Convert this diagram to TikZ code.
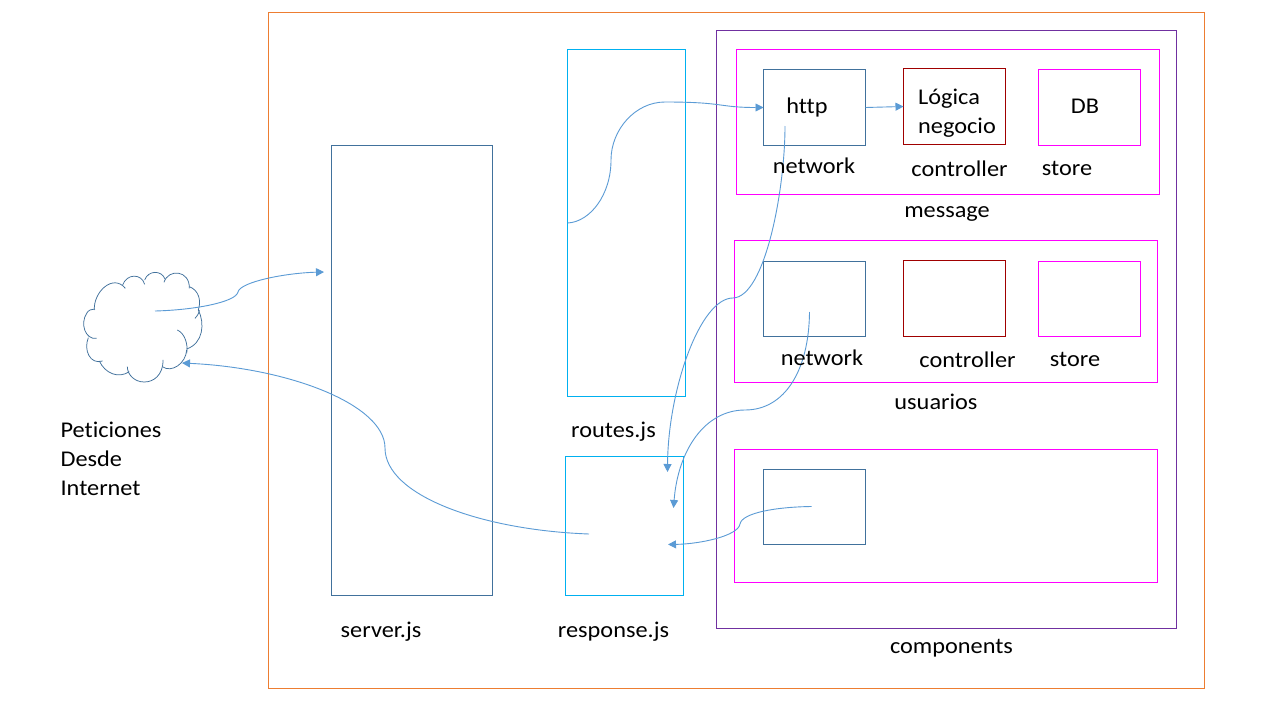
\documentclass[tikz,border=0pt]{standalone}
\usepackage{fontspec}
\setmainfont[Ligatures=NoCommon, FakeStretch=1.08]{Carlito}
\usetikzlibrary{positioning, arrows.meta}
\definecolor{cOrange}{HTML}{ED7D31}
\definecolor{cSteel}{HTML}{41719C}
\definecolor{cCyan}{HTML}{00B0F0}
\definecolor{cPurple}{HTML}{7030A0}
\definecolor{cMagenta}{HTML}{FF00FF}
\definecolor{cRed}{HTML}{A00000}
\definecolor{cLink}{HTML}{5B9BD5}
\tikzset{
	box/.style={draw, inner sep=0pt, outer sep=0pt, line width=1pt},
	smallbox/.style={box, minimum width=102pt, minimum height=76pt},
	lbl/.style={font=\fontsize{22.5}{29}\selectfont, inner sep=0pt, align=left},
	link/.style={draw=cLink, line width=.9pt, -{Triangle[length=8pt, width=8pt]}}
}
\begin{document}
\begin{tikzpicture}[x=1pt, y=-1pt]
	\path[use as bounding box, fill=white] (0,0) rectangle (1280,720);

	% main frames
	\node[box, draw=cOrange, minimum width=936pt, minimum height=676pt] (app) at (736.5,350.5) {};
	\node[box, draw=cSteel, minimum width=161pt, minimum height=450pt] (server) at (412,370.5) {};
	\node[box, draw=cCyan, minimum width=118pt, minimum height=347pt] (routes) at (626.5,223) {};
	\node[box, draw=cCyan, minimum width=118pt, minimum height=139pt] (response) at (624.5,526) {};
	\node[box, draw=cPurple, minimum width=460pt, minimum height=598pt] (comps) at (946.5,329.5) {};

	% message
	\node[box, draw=cMagenta, minimum width=423pt, minimum height=145pt] (message) at (948,122) {};
	\node[smallbox, draw=cSteel] (http) at (814.5,107.5) {};
	\node[smallbox, draw=cRed, right=38pt of http, yshift=1pt] (logica) {};
	\node[smallbox, draw=cMagenta, right=33pt of logica, yshift=-1pt] (db) {};

	% usuarios
	\node[box, draw=cMagenta, minimum width=423pt, minimum height=142pt] (usuarios) at (946,311.5) {};
	\node[smallbox, draw=cSteel, minimum height=75pt] (netB) at (814.5,299) {};
	\node[smallbox, draw=cRed, right=38pt of netB, yshift=.5pt] (ctrlB) {};
	\node[smallbox, draw=cMagenta, minimum height=75pt, right=33pt of ctrlB, yshift=-.5pt] (storeB) {};

	% components
	\node[box, draw=cMagenta, minimum width=423pt, minimum height=133pt] (compC) at (946,516) {};
	\node[smallbox, draw=cSteel, minimum height=75pt] (compIn) at (814.5,507) {};

	% cloud
	\begin{scope}[shift={(70,255)}, x=.3333pt, y=-.3333pt, draw=cSteel, line width=.75pt]
		\draw (73,165) .. controls (70,110) and (130,55) .. (166,100);
		\draw (158,90) .. controls (170,55) and (215,55) .. (224,88);
		\draw (224,75) .. controls (235,45) and (275,45) .. (285,72);
		\draw (282,82) .. controls (295,40) and (360,45) .. (358,100);
		\draw (358,95) .. controls (385,105) and (395,135) .. (385,165);
		\draw (375,190) .. controls (385,180) and (388,170) .. (388,165);
		\draw (385,165) .. controls (405,205) and (400,265) .. (350,282);
		\draw (322,225) .. controls (345,235) and (355,270) .. (350,295);
		\draw (350,285) .. controls (348,325) and (305,355) .. (277,335);
		\draw (279,315) .. controls (280,360) and (250,382) .. (222,381);
		\draw (222,381) .. controls (195,381) and (172,360) .. (172,335);
		\draw (178,350) .. controls (145,372) and (105,355) .. (88,318);
		\draw (98,318) .. controls (60,330) and (40,285) .. (55,248);
		\draw (80,250) .. controls (45,255) and (30,205) .. (50,175);
		\draw (50,175) .. controls (55,165) and (65,162) .. (75,162);
	\end{scope}

	% free ends
	\coordinate (cloudOut) at (155,311);
	\coordinate (cloudIn) at (182,363);
	\coordinate (serverIn) at (324,272);
	\coordinate (respOut) at (589,534);
	\coordinate (respA) at (667.5,472);
	\coordinate (respB) at (673.5,508);
	\coordinate (respC) at (668,544.5);
	\coordinate (httpOut) at (785,126);
	\coordinate (netOut) at (809.5,312);
	\coordinate (compOut) at (811.5,506.5);

	% connectors
	\draw[link] (cloudOut) .. controls (195,310) and (236,302) .. (238,292) .. controls (240,282) and (285,273) .. (serverIn);
	\draw[link] (respOut) .. controls (480,530) and (385,495) .. (385,448) .. controls (385,405) and (290,368) .. (cloudIn);
	\draw[link] (routes.west) .. controls (590,222) and (611,195) .. (611,160) .. controls (611,130) and (635,102) .. (665,102) .. controls (725,102) and (718,107.5) .. (http.west);
	\draw[link] (http.east) -- (logica.west);
	\draw[link] (httpOut) .. controls (785,190) and (765,297) .. (733,298) .. controls (700,298) and (668,390) .. (respA);
	\draw[link] (netOut) .. controls (809,370) and (785,410) .. (745,410) .. controls (705,410) and (678,450) .. (respB);
	\draw[link] (compOut) .. controls (775,507) and (742,513) .. (740,524) .. controls (738,536) and (700,544) .. (respC);

	% labels
	\node[lbl] (tPet) at (111,459) {Peticiones\\Desde\\Internet};
	\node[lbl] (tServer) at (381,632) {server.js};
	\node[lbl] (tRoutes) at (613.5,432) {routes.js};
	\node[lbl] (tResp) at (613.5,632) {response.js};
	\node[lbl] (tComps) at (951.5,648) {components};
	\node[lbl] (tMsg) at (947,214) {message};
	\node[lbl] (tUsr) at (936,402) {usuarios};
	\node[lbl] (tHttp) at (807,108) {http};
	\node[lbl] (tLog) at (957,113) {Lógica\\negocio};
	\node[lbl] (tDb) at (1085,106) {DB};
	\node[lbl] (tNetA) at (814,166) {network};
	\node[lbl] (tCtrlA) at (959.5,169) {controller};
	\node[lbl] (tStoreA) at (1067,168) {store};
	\node[lbl] (tNetB) at (822,358) {network};
	\node[lbl] (tCtrlB) at (967.5,360) {controller};
	\node[lbl] (tStoreB) at (1075,359) {store};
\end{tikzpicture}
\end{document}
